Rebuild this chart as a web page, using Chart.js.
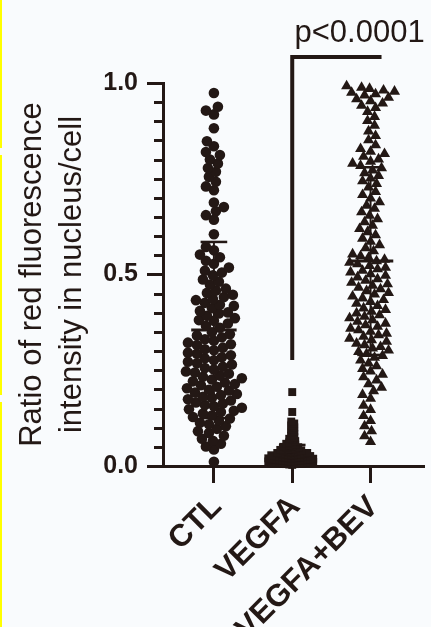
<!DOCTYPE html>
<html><head><meta charset="utf-8">
<script src="https://cdn.jsdelivr.net/npm/chart.js@4/dist/chart.umd.min.js"></script>
<style>
html,body{margin:0;padding:0;background:#f9fbfd;}
#wrap{position:relative;width:431px;height:627px;overflow:hidden;}
canvas{display:block;}
.yl{position:absolute;left:0;width:2px;background:#ffff00;}
</style></head><body>
<div id="wrap"><canvas id="c" width="431" height="627"></canvas>
<div class="yl" style="top:0;height:148px"></div>
<div class="yl" style="top:155px;height:240px"></div>
<div class="yl" style="top:402px;height:225px"></div>
</div>
<script>
// ---------------- data ----------------
const categories = ['CTL', 'VEGFA', 'VEGFA+BEV'];
const yTickValues = [0, 0.5, 1.0];
const yMinorStep = 0.05;

const ctlValues = [
  0.974, 0.938, 0.928, 0.918, 0.882, 0.848, 0.835, 0.820, 0.812, 0.800, 0.790, 0.778, 0.768, 0.755, 0.742, 0.730,
  0.720, 0.688, 0.676, 0.665, 0.655, 0.643, 0.605, 0.572, 0.563, 0.552, 0.545, 0.536, 0.528, 0.518, 0.510, 0.505,
  0.498, 0.487, 0.481, 0.474, 0.463, 0.458, 0.452, 0.447, 0.441, 0.436,
  0.433, 0.426, 0.421, 0.418, 0.412, 0.405, 0.401, 0.398, 0.392, 0.386,
  0.381, 0.379, 0.372, 0.366, 0.361, 0.349, 0.344, 0.341, 0.336, 0.331,
  0.327, 0.322, 0.318, 0.316, 0.309, 0.305, 0.302, 0.296, 0.293, 0.289,
  0.284, 0.281, 0.276, 0.272, 0.268, 0.265, 0.259, 0.256, 0.252, 0.247,
  0.244, 0.241, 0.236, 0.233, 0.229, 0.226, 0.221, 0.218, 0.214, 0.211,
  0.207, 0.203, 0.199, 0.197, 0.192, 0.188, 0.185, 0.181, 0.178, 0.174,
  0.171, 0.166, 0.163, 0.159, 0.156, 0.152, 0.148, 0.144, 0.141, 0.137,
  0.132, 0.128, 0.124, 0.119, 0.113, 0.109, 0.104, 0.097, 0.091, 0.086,
  0.079, 0.071, 0.066, 0.058, 0.051, 0.043, 0.011
];

const vegfaValues = [
  0.193, 0.141, 0.116, 0.111, 0.106, 0.101, 0.096, 0.091, 0.087, 0.083, 0.079, 0.075, 0.071, 0.068,
  0.065, 0.062, 0.060, 0.058, 0.056, 0.054, 0.052, 0.050, 0.049, 0.047, 0.046, 0.044, 0.043, 0.042,
  0.041, 0.040, 0.039, 0.038, 0.037, 0.036, 0.035, 0.034, 0.034, 0.033, 0.032, 0.031, 0.031, 0.030,
  0.030, 0.029, 0.028, 0.028, 0.027, 0.026, 0.026, 0.025, 0.025, 0.024, 0.024, 0.023, 0.022, 0.022,
  0.021, 0.021, 0.020, 0.020, 0.019, 0.019, 0.018, 0.018, 0.017, 0.017, 0.016, 0.016, 0.015, 0.015,
  0.014, 0.014, 0.013, 0.013, 0.012, 0.012, 0.011, 0.011, 0.010, 0.010, 0.009, 0.009, 0.008, 0.008,
  0.007, 0.007, 0.006, 0.006, 0.005, 0.005, 0.004, 0.003
];

const bevValues = [
  0.992, 0.988, 0.985, 0.981, 0.978, 0.975, 0.971, 0.968, 0.962, 0.958, 0.953, 0.947, 0.941, 0.935,
  0.925, 0.912, 0.901, 0.889, 0.874, 0.862, 0.851, 0.838,
  0.828, 0.821, 0.815, 0.808, 0.801, 0.795, 0.790, 0.784, 0.778, 0.772, 0.765, 0.758, 0.751, 0.744, 0.737, 0.728,
  0.716, 0.708, 0.699, 0.689, 0.680, 0.672, 0.663, 0.654, 0.645, 0.637, 0.628, 0.619, 0.611, 0.603, 0.594, 0.586,
  0.577, 0.569, 0.561, 0.553,
  0.548, 0.544, 0.539, 0.535, 0.531, 0.527, 0.523, 0.518, 0.514, 0.510, 0.506, 0.501, 0.497, 0.493, 0.488,
  0.484, 0.479, 0.475, 0.471, 0.466, 0.462, 0.457, 0.452, 0.448, 0.443, 0.438, 0.434, 0.429, 0.424, 0.418,
  0.412, 0.408, 0.403, 0.399, 0.394, 0.390, 0.386, 0.381, 0.377, 0.372, 0.368, 0.364, 0.359, 0.355, 0.351,
  0.346, 0.342, 0.338, 0.333, 0.329, 0.325, 0.320, 0.316, 0.311, 0.307, 0.302, 0.298, 0.293, 0.288, 0.283,
  0.276, 0.268, 0.261, 0.254, 0.247, 0.239, 0.232, 0.224,
  0.214, 0.205, 0.196, 0.186, 0.176,
  0.158, 0.147, 0.131, 0.118, 0.104, 0.091, 0.078, 0.063
];

const groupMeans = [0.355, 0.025, 0.535];
const groupSDs = [0.230, 0.030, 0.245];

const pValueText = 'p<0.0001';
const bracketFrom = 1, bracketTo = 2.14;       // category positions
const bracketLow = 0.277, bracketHigh = 1.068; // value positions
const pTextX = 1.86, pTextY = 1.107;

// ---------------- styling ----------------
const INK = '#231815';
const FONT = '"Liberation Sans", Arial, Helvetica, sans-serif';
const X_MIN = -0.65, X_MAX = 2.69;
const PX_PER_X = 78.5, PX_PER_Y = 383; // approx plot scale, used only for swarm spacing

// beeswarm layout: horizontal offsets so symbols don't overlap more than allowed
function swarm(values, center, dist) {
  const sorted = values.slice().sort((a, b) => a - b);
  const placed = [];
  const out = [];
  for (const v of sorted) {
    const py = v * PX_PER_Y;
    let best = 0;
    for (let k = 0; k < 600; k++) {
      const dx = (k % 2 === 0 ? 1 : -1) * Math.ceil(k / 2);
      let ok = true;
      for (const p of placed) {
        const dy = p.py - py;
        if (Math.abs(dy) >= dist) continue;
        const ddx = p.dx - dx;
        if (ddx * ddx + dy * dy < dist * dist) { ok = false; break; }
      }
      if (ok) { best = dx; break; }
    }
    placed.push({ py, dx: best });
    out.push({ x: center + best / PX_PER_X, y: v });
  }
  return out;
}

const pointSets = [
  { data: swarm(ctlValues, 0, 8.5), pointStyle: 'circle', pointRadius: 5.3 },
  { data: swarm(vegfaValues, 1, 3), pointStyle: 'rect', pointRadius: 5.6 },
  { data: swarm(bevValues, 2, 8), pointStyle: 'triangle', pointRadius: 6.4 }
];

const datasets = pointSets.map(s => ({
  data: s.data, pointStyle: s.pointStyle, pointRadius: s.pointRadius,
  pointBackgroundColor: INK, pointBorderColor: INK, pointBorderWidth: 0,
  showLine: false, clip: false
}));

const MEAN_HALF = 0.29, CAP_HALF = 0.17;
function lineSet(pts, w) {
  return { data: pts, showLine: true, borderColor: INK, borderWidth: w, pointRadius: 0,
           borderCapStyle: 'butt', borderJoinStyle: 'miter', clip: false, tension: 0 };
}
groupMeans.forEach((m, i) => {
  const sd = groupSDs[i];
  datasets.push(lineSet([{ x: i - MEAN_HALF, y: m }, { x: i + MEAN_HALF, y: m }], 3));
  datasets.push(lineSet([{ x: i, y: m - sd }, { x: i, y: m + sd }], 2));
  datasets.push(lineSet([{ x: i - CAP_HALF, y: m + sd }, { x: i + CAP_HALF, y: m + sd }], 2.5));
  datasets.push(lineSet([{ x: i - CAP_HALF, y: Math.max(0, m - sd) }, { x: i + CAP_HALF, y: Math.max(0, m - sd) }], 2.5));
});
datasets.push(lineSet([
  { x: bracketFrom, y: bracketLow }, { x: bracketFrom, y: bracketHigh }, { x: bracketTo, y: bracketHigh }
], 4));

const extrasPlugin = {
  id: 'extras',
  afterDraw(chart) {
    const ctx = chart.ctx;
    const xs = chart.scales.x, ys = chart.scales.y;
    ctx.save();
    // minor ticks on the y axis
    ctx.strokeStyle = INK; ctx.lineWidth = 3;
    const left = chart.chartArea.left;
    for (let k = 1; k < Math.round(1 / yMinorStep); k++) {
      const v = k * yMinorStep;
      if (Math.abs(v - 0.5) < 1e-9) continue;
      const py = Math.round(ys.getPixelForValue(v)) + 0.5;
      ctx.beginPath(); ctx.moveTo(left - 9, py); ctx.lineTo(left, py); ctx.stroke();
    }
    // rotated category labels at the x-axis ticks
    ctx.fillStyle = INK;
    ctx.font = 'bold 31px ' + FONT;
    ctx.textAlign = 'right';
    ctx.textBaseline = 'middle';
    xs.ticks.forEach((t) => {
      const px = xs.getPixelForValue(t.value) + 3;
      const py = chart.chartArea.bottom + 36;
      ctx.save();
      ctx.translate(px, py);
      ctx.rotate(-Math.PI / 4);
      ctx.fillText(categories[t.value], 0, 0);
      ctx.restore();
    });
    // p-value text
    ctx.font = '31px ' + FONT;
    ctx.textAlign = 'center';
    ctx.textBaseline = 'alphabetic';
    ctx.fillText(pValueText, xs.getPixelForValue(pTextX), ys.getPixelForValue(pTextY));
    ctx.restore();
  }
};

new Chart(document.getElementById('c'), {
  type: 'scatter',
  data: { datasets },
  plugins: [extrasPlugin],
  options: {
    responsive: false,
    animation: false,
    devicePixelRatio: 1,
    events: [],
    layout: { padding: { top: 83, right: 6, left: 0, bottom: 0 } },
    plugins: { legend: { display: false }, tooltip: { enabled: false } },
    scales: {
      x: {
        type: 'linear', position: 'bottom', min: X_MIN, max: X_MAX,
        afterBuildTicks: (s) => { s.ticks = categories.map((c, i) => ({ value: i })); },
        afterFit: (s) => { s.height = 161; },
        ticks: { display: false, autoSkip: false },
        grid: { display: true, drawOnChartArea: false, drawTicks: true, tickLength: 17, tickWidth: 3, tickColor: INK },
        border: { display: true, color: INK, width: 3 }
      },
      y: {
        type: 'linear', position: 'left', min: 0, max: 1,
        afterBuildTicks: (s) => { s.ticks = yTickValues.map(v => ({ value: v })); },
        afterFit: (s) => { s.width = 163; },
        ticks: {
          padding: 9, color: INK, font: { family: FONT, size: 25, weight: 'bold' },
          callback: (v) => Number(v).toFixed(1)
        },
        grid: { display: true, drawOnChartArea: false, drawTicks: true, tickLength: 16, tickWidth: 3, tickColor: INK },
        border: { display: true, color: INK, width: 3 },
        title: {
          display: true, text: ['Ratio of red fluorescence', 'intensity in nucleus/cell'],
          color: INK, font: { family: FONT, size: 31, weight: 'normal', lineHeight: 1.29 },
          padding: { top: 12, bottom: 0 }
        }
      }
    }
  }
});
</script>
</body></html>
